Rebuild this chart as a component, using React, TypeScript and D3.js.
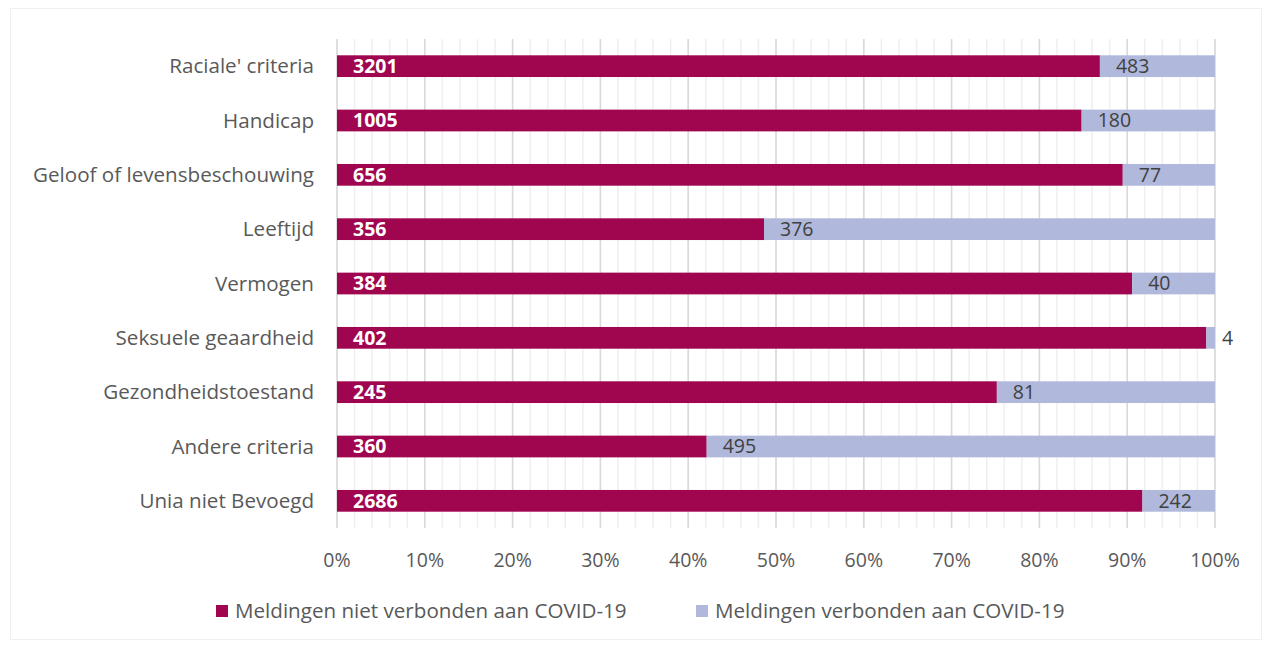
import React from 'react';
import * as d3 from 'd3';

const categories = [
  "Raciale' criteria",
  'Handicap',
  'Geloof of levensbeschouwing',
  'Leeftijd',
  'Vermogen',
  'Seksuele geaardheid',
  'Gezondheidstoestand',
  'Andere criteria',
  'Unia niet Bevoegd',
];
const nietCovid = [3201, 1005, 656, 356, 384, 402, 245, 360, 2686];
const welCovid = [483, 180, 77, 376, 40, 4, 81, 495, 242];
const seriesNames = ['Meldingen niet verbonden aan COVID-19', 'Meldingen verbonden aan COVID-19'];
const colors = ['#A0054F', '#B0B8DC'];
const xTicks = [0, 0.1, 0.2, 0.3, 0.4, 0.5, 0.6, 0.7, 0.8, 0.9, 1];

const W = 1271, H = 646;
const font = '"Open Sans", sans-serif';
const fs = 20.6;

export default function App() {
  const x = d3.scaleLinear().domain([0, 1]).range([337, 1215]);
  const y = d3.scaleBand().domain(categories).range([39, 528]).paddingInner(0.6).paddingOuter(0.3);
  const minor = d3.range(0, 1.0001, 0.02);
  const pct = d3.format('.0%');

  return (
    <svg width={W} height={H} style={{ position: 'absolute', left: 0, top: 0, background: '#fff', fontFamily: font }}>
      <rect x={10.5} y={8.5} width={1251} height={631} fill="none" stroke="#f0f0f0" />
      {minor.map((t, i) => (
        <line key={'m' + i} x1={x(t)} x2={x(t)} y1={39} y2={528} stroke="#efefef" strokeWidth={1.5} />
      ))}
      {xTicks.map((t, i) => (
        <line key={'g' + i} x1={x(t)} x2={x(t)} y1={39} y2={528} stroke="#d9d9d9" strokeWidth={1.5} />
      ))}
      {xTicks.map((t, i) => (
        <text key={'t' + i} x={x(t)} y={560} dy="0.35em" textAnchor="middle" fontSize={19.5} fill="#595959">{pct(t)}</text>
      ))}
      {categories.map((c, i) => {
        const total = nietCovid[i] + welCovid[i];
        const p = nietCovid[i] / total;
        const y0 = y(c)!;
        const bh = y.bandwidth();
        const cy = y0 + bh / 2;
        const x0 = x(0), x1 = x(p), x2 = x(1);
        const smallSeg = x2 - x1 < 30;
        return (
          <g key={c}>
            <text x={314} y={cy} dy="0.35em" textAnchor="end" fontSize={fs} fill="#595959">{c}</text>
            <rect x={x0} y={y0} width={x1 - x0} height={bh} fill={colors[0]} />
            <rect x={x1} y={y0} width={x2 - x1} height={bh} fill={colors[1]} />
            <text x={x0 + 16} y={cy} dy="0.35em" fontSize={19.5} fontWeight="bold" fill="#fff">{nietCovid[i]}</text>
            <text x={smallSeg ? x2 + 7 : x1 + 16} y={cy} dy="0.35em" fontSize={19.5} fill="#404040">{welCovid[i]}</text>
          </g>
        );
      })}
      <g>
        <rect x={216} y={605} width={12} height={12} fill={colors[0]} />
        <text x={235} y={611} dy="0.35em" fontSize={fs} fill="#595959">{seriesNames[0]}</text>
        <rect x={696} y={605} width={12} height={12} fill={colors[1]} />
        <text x={715} y={611} dy="0.35em" fontSize={fs} fill="#595959">{seriesNames[1]}</text>
      </g>
    </svg>
  );
}
